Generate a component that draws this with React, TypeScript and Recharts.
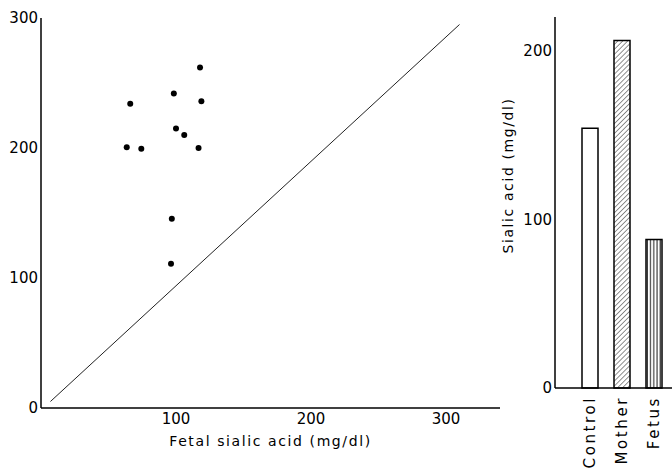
import React from 'react';
import {
  ScatterChart, Scatter, XAxis, YAxis, ReferenceLine,
  BarChart, Bar, Cell,
} from 'recharts';

// Scatter: fetal vs maternal sialic acid (mg/dl)
const fetalValues = [117.8, 98.4, 66.1, 118.8, 100, 106.1, 63.5, 74.3, 116.7, 96.9, 96.3];
const maternalValues = [262, 242, 234, 236, 215, 210, 200.5, 199.5, 200, 145.5, 111];
const identityLine = [{ x: 7, y: 5 }, { x: 310, y: 295 }];
const scatterXTicks = [100, 200, 300];
const scatterYTicks = [0, 100, 200, 300];

// Bars: mean sialic acid
const groups = ['Control', 'Mother', 'Fetus'];
const groupValues = [154, 206, 88];
const groupFills = ['#ffffff', 'url(#hatchDiag)', 'url(#hatchVert)'];
const barYTicks = [0, 100, 200];

const scatterData = fetalValues.map((x, i) => ({ x, y: maternalValues[i] }));
const barData = groups.map((name, i) => ({ name, value: groupValues[i] }));

const FONT = '"DejaVu Sans", sans-serif';

const Dot = (props: any) => {
  const { cx, cy } = props;
  if (cx == null || cy == null) return null;
  return <circle cx={cx} cy={cy} r={3} fill="#000" />;
};

const CatTick = (props: any) => {
  const { x, y, payload } = props;
  return (
    <text
      x={x}
      y={y}
      transform={`rotate(-90 ${x} ${y})`}
      textAnchor="end"
      dy="0.36em"
      fontFamily={FONT}
      fontSize={15}
      letterSpacing={2.6}
      fill="#000"
    >
      {payload.value}
    </text>
  );
};

const BarYLabel = (props: any) => {
  const vb = props.viewBox || {};
  const cx = (vb.x ?? 480) + 28;
  const cy = (vb.y ?? 17) + (vb.height ?? 371) / 2 - 27;
  return (
    <text
      x={cx}
      y={cy}
      transform={`rotate(-90 ${cx} ${cy})`}
      textAnchor="middle"
      dy="0.36em"
      fontFamily={FONT}
      fontSize={14}
      letterSpacing={1.6}
      fill="#000"
    >
      Sialic acid (mg/dl)
    </text>
  );
};

export default function App() {
  return (
    <div style={{ position: 'absolute', left: 0, top: 0, width: 672, height: 474, background: '#fff', fontFamily: FONT }}>
      <svg width={0} height={0} style={{ position: 'absolute' }}>
        <defs>
          <pattern id="hatchDiag" width="3.5" height="3.5" patternUnits="userSpaceOnUse" patternTransform="rotate(45)">
            <rect width="3.5" height="3.5" fill="#fff" />
            <line x1="0" y1="0" x2="0" y2="3.5" stroke="#222" strokeWidth="1" />
          </pattern>
          <pattern id="hatchVert" width="3.2" height="10" patternUnits="userSpaceOnUse">
            <rect width="3.2" height="10" fill="#fff" />
            <line x1="1" y1="0" x2="1" y2="10" stroke="#111" strokeWidth="1" />
          </pattern>
        </defs>
      </svg>

      <div style={{ position: 'absolute', left: 0, top: 0 }}>
        <ScatterChart width={520} height={474} margin={{ top: 18, right: 20, bottom: 16, left: 0 }}>
          <XAxis
            type="number"
            dataKey="x"
            domain={[0, 340]}
            ticks={scatterXTicks}
            allowDataOverflow
            height={50}
            axisLine={{ stroke: '#000', strokeWidth: 1.5 }}
            tickLine={false}
            tickSize={4}
            tickMargin={1}
            tick={{ fill: '#000', fontSize: 15, fontFamily: FONT }}
            label={{
              value: 'Fetal sialic acid (mg/dl)',
              position: 'insideBottom',
              offset: 12,
              fill: '#000',
              fontSize: 14,
              fontFamily: FONT,
              letterSpacing: 1.6,
            }}
          />
          <YAxis
            type="number"
            dataKey="y"
            domain={[0, 300]}
            ticks={scatterYTicks}
            width={41}
            axisLine={{ stroke: '#000', strokeWidth: 1.5 }}
            tickLine={false}
            tickSize={2}
            tickMargin={1}
            tick={{ fill: '#000', fontSize: 15, fontFamily: FONT }}
          />
          <ReferenceLine segment={identityLine} stroke="#222" strokeWidth={1} ifOverflow="visible" />
          <Scatter data={scatterData} fill="#000" shape={<Dot />} isAnimationActive={false} />
        </ScatterChart>
      </div>

      <div style={{ position: 'absolute', left: 480, top: 0 }}>
        <BarChart width={192} height={474} data={barData} margin={{ top: 17, right: 0, bottom: 6, left: 0 }}>
          <XAxis
            dataKey="name"
            type="category"
            height={80}
            padding={{ left: 19, right: 2 }}
            axisLine={{ stroke: '#000', strokeWidth: 1.5 }}
            tickLine={false}
            tickSize={6}
            tickMargin={2}
            tick={<CatTick />}
            interval={0}
          />
          <YAxis
            type="number"
            domain={[0, 220]}
            ticks={barYTicks}
            width={75}
            axisLine={{ stroke: '#000', strokeWidth: 1.5 }}
            tickLine={false}
            tickSize={2}
            tickMargin={1}
            tick={{ fill: '#000', fontSize: 15, fontFamily: FONT }}
            label={<BarYLabel />}
          />
          <Bar dataKey="value" barSize={16} stroke="#000" strokeWidth={1.5} isAnimationActive={false}>
            {barData.map((d, i) => (
              <Cell key={d.name} fill={groupFills[i]} />
            ))}
          </Bar>
        </BarChart>
      </div>
    </div>
  );
}
